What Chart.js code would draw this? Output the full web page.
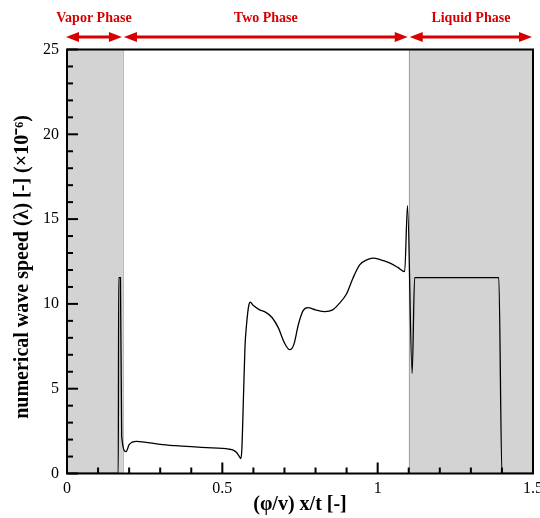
<!DOCTYPE html>
<html>
<head>
<meta charset="utf-8">
<script src="https://cdn.jsdelivr.net/npm/chart.js@4/dist/chart.umd.min.js"></script>
<style>
  html, body { margin: 0; padding: 0; background: #fff; }
  #wrap { width: 540px; height: 518px; }
</style>
</head>
<body>
<div id="wrap"><canvas id="c" width="540" height="518"></canvas></div>
<script>
// Similarity coordinate (phi/v) x/t
const positionX = [
  0, 0.165, 0.1665, 0.172, 0.176, 0.19, 0.20, 0.21, 0.224, 0.25,
  0.30, 0.35, 0.40, 0.45, 0.50, 0.52, 0.535, 0.545, 0.553, 0.56,
  0.563, 0.568, 0.573, 0.578, 0.585, 0.59, 0.60, 0.62, 0.64, 0.66,
  0.68, 0.70, 0.717, 0.73, 0.745, 0.76, 0.775, 0.80, 0.83, 0.855,
  0.875, 0.90, 0.92, 0.942, 0.965, 0.985, 1.01, 1.04, 1.065, 1.087,
  1.096, 1.111, 1.119, 1.39, 1.40, 1.5
];
// Numerical wave speed (x 10^-6)
const waveSpeed = [
  0, 0, 11.55, 11.55, 2.2, 1.29, 1.7, 1.85, 1.9, 1.85,
  1.72, 1.64, 1.58, 1.53, 1.48, 1.44, 1.38, 1.25, 1.05, 0.88,
  1.5, 4.5, 7.5, 8.8, 9.9, 10.1, 9.9, 9.65, 9.5, 9.2,
  8.6, 7.7, 7.3, 7.6, 8.8, 9.6, 9.78, 9.65, 9.55, 9.65,
  10.0, 10.6, 11.5, 12.3, 12.6, 12.7, 12.6, 12.4, 12.15, 11.9,
  15.8, 5.9, 11.55, 11.55, 0, 0
];
// Phase regions along x
const phaseNames = ['Vapor Phase', 'Two Phase', 'Liquid Phase'];
const phaseBounds = [0, 0.18, 1.10, 1.5];
const shadedPhases = [0, 2];

const xMajorStep = 0.5, xMinorStep = 0.1;
const yMajorStep = 5, yMinorStep = 1;

const SERIF = '"Liberation Serif", "Times New Roman", serif';
const RED = '#d60000';

const decorPlugin = {
  id: 'decor',
  beforeDatasetsDraw(chart) {
    const { ctx, chartArea: a, scales: { x } } = chart;
    ctx.save();
    ctx.fillStyle = '#d3d3d3';
    shadedPhases.forEach(i => {
      const l = x.getPixelForValue(phaseBounds[i]);
      const r = x.getPixelForValue(phaseBounds[i + 1]);
      ctx.fillRect(l, a.top, r - l, a.bottom - a.top);
    });
    ctx.strokeStyle = '#777';
    ctx.lineWidth = 1;
    ctx.setLineDash([1, 1]);
    [phaseBounds[1], phaseBounds[2]].forEach(v => {
      const px = Math.round(x.getPixelForValue(v)) + 0.5;
      ctx.beginPath();
      ctx.moveTo(px, a.top);
      ctx.lineTo(px, a.bottom);
      ctx.stroke();
    });
    ctx.restore();
  },
  afterDraw(chart) {
    const { ctx, chartArea: a, scales: { x, y } } = chart;
    ctx.save();
    // minor/major inward ticks
    ctx.strokeStyle = '#000';
    ctx.lineWidth = 2;
    for (let k = 0; k <= Math.round((x.max - x.min) / xMinorStep); k++) {
      const v = x.min + k * xMinorStep;
      const major = Math.abs(v / xMajorStep - Math.round(v / xMajorStep)) < 1e-6;
      const px = x.getPixelForValue(v);
      ctx.beginPath();
      ctx.moveTo(px, a.bottom);
      ctx.lineTo(px, a.bottom - (major ? 11 : 6));
      ctx.stroke();
    }
    for (let k = 0; k <= Math.round((y.max - y.min) / yMinorStep); k++) {
      const v = y.min + k * yMinorStep;
      const major = v % yMajorStep === 0;
      const py = y.getPixelForValue(v);
      ctx.beginPath();
      ctx.moveTo(a.left, py);
      ctx.lineTo(a.left + (major ? 11 : 6), py);
      ctx.stroke();
    }
    // frame
    ctx.lineWidth = 2;
    ctx.strokeRect(a.left, a.top, a.right - a.left, a.bottom - a.top);

    // phase arrows and names
    ctx.strokeStyle = RED;
    ctx.fillStyle = RED;
    ctx.font = 'bold 14px ' + SERIF;
    ctx.textAlign = 'center';
    ctx.textBaseline = 'middle';
    const ay = 37, head = 13, hw = 5;
    phaseNames.forEach((name, i) => {
      const l = x.getPixelForValue(phaseBounds[i]) + (i === 0 ? -1 : 1);
      const r = x.getPixelForValue(phaseBounds[i + 1]) - 1;
      ctx.lineWidth = 3;
      ctx.beginPath();
      ctx.moveTo(l + head - 2, ay);
      ctx.lineTo(r - head + 2, ay);
      ctx.stroke();
      ctx.beginPath();
      ctx.moveTo(l, ay); ctx.lineTo(l + head, ay - hw); ctx.lineTo(l + head, ay + hw); ctx.closePath();
      ctx.fill();
      ctx.beginPath();
      ctx.moveTo(r, ay); ctx.lineTo(r - head, ay - hw); ctx.lineTo(r - head, ay + hw); ctx.closePath();
      ctx.fill();
      ctx.fillText(name, (l + r) / 2, 18);
    });

    // axis titles
    ctx.fillStyle = '#000';
    ctx.font = 'bold 20px ' + SERIF;
    ctx.textAlign = 'center';
    ctx.textBaseline = 'middle';
    ctx.fillText('(\u03c6/v) x/t [-]', (a.left + a.right) / 2, 505);
    ctx.translate(23, 267);
    ctx.rotate(-Math.PI / 2);
    ctx.fillText('numerical wave speed (\u03bb) [-] (\u00d710\u207b\u2076)', 0, 0);
    ctx.restore();
  }
};

new Chart(document.getElementById('c'), {
  type: 'scatter',
  data: {
    datasets: [{
      data: positionX.map((v, i) => ({ x: v, y: waveSpeed[i] })),
      showLine: true,
      borderColor: '#000',
      borderWidth: 1.3,
      pointRadius: 0,
      cubicInterpolationMode: 'monotone',
      fill: false
    }]
  },
  options: {
    responsive: false,
    animation: false,
    layout: { padding: { top: 49.5, right: 7, bottom: 0, left: 0 } },
    plugins: { legend: { display: false }, tooltip: { enabled: false } },
    scales: {
      x: {
        type: 'linear', min: 0, max: 1.5,
        grid: { display: false, drawTicks: false },
        border: { display: false },
        ticks: {
          stepSize: xMajorStep, color: '#000', padding: 6,
          font: { family: SERIF, size: 16 },
          callback: v => String(v)
        },
        afterFit(s) { s.height = 44.5; s.paddingLeft = 0; s.paddingRight = 0; }
      },
      y: {
        type: 'linear', min: 0, max: 25,
        grid: { display: false, drawTicks: false },
        border: { display: false },
        ticks: { stepSize: yMajorStep, color: '#000', padding: 8, font: { family: SERIF, size: 16 } },
        afterFit(s) { s.width = 67; s.paddingTop = 0; s.paddingBottom = 0; }
      }
    }
  },
  plugins: [decorPlugin]
});
</script>
</body>
</html>
